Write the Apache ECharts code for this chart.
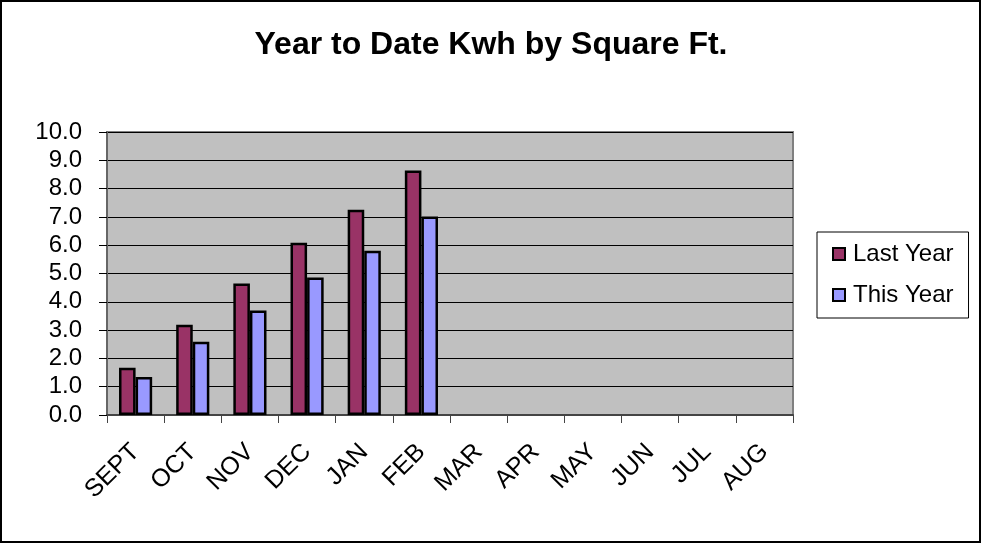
<!DOCTYPE html>
<html>
<head>
<meta charset="utf-8">
<script src="https://cdn.jsdelivr.net/npm/echarts@6/dist/echarts.min.js"></script>
<style>
  html, body { margin: 0; padding: 0; background: #fff; }
  #chart { width: 982px; height: 544px; }
</style>
</head>
<body>
<div id="chart"></div>
<script>
// chart data
const months = ['SEPT', 'OCT', 'NOV', 'DEC', 'JAN', 'FEB', 'MAR', 'APR', 'MAY', 'JUN', 'JUL', 'AUG']
const lastYear = [1.67, 3.19, 4.65, 6.09, 7.25, 8.64, null, null, null, null, null, null]
const thisYear = [1.34, 2.59, 3.69, 4.86, 5.80, 7.01, null, null, null, null, null, null]
const seriesNames = ['Last Year', 'This Year']

const font = 'Arial, "Liberation Sans", sans-serif'

const chart = echarts.init(document.getElementById('chart'), null, { renderer: 'canvas' })

const option = {
  animation: false,
  backgroundColor: '#fff',
  title: {
    text: 'Year to Date Kwh by Square Ft.',
    left: 'center',
    top: 24,
    padding: [5, 5, 5, 15],
    textStyle: { fontFamily: font, fontSize: 32, fontWeight: 'bold', color: '#000' }
  },
  graphic: [{
    type: 'rect',
    shape: { x: 1, y: 1, width: 979, height: 541 },
    style: { fill: 'none', stroke: '#000', lineWidth: 2 },
    z: 100
  }],
  legend: {
    orient: 'vertical',
    left: 817,
    top: 232,
    padding: [10, 15, 11, 15],
    itemGap: 17,
    itemWidth: 12,
    itemHeight: 12,
    icon: 'rect',
    borderColor: '#000',
    borderWidth: 1,
    backgroundColor: '#fff',
    data: seriesNames,
    textStyle: { fontFamily: font, fontSize: 24, color: '#000', lineHeight: 24, padding: [0, 0, 0, 3] }
  },
  grid: {
    left: 107,
    top: 132,
    right: 189,
    bottom: 129,
    show: true,
    backgroundColor: '#C0C0C0',
    borderColor: '#808080',
    borderWidth: 2
  },
  xAxis: {
    type: 'category',
    data: months,
    axisLine: { lineStyle: { color: '#444', width: 2 } },
    axisTick: { show: true, length: 8, lineStyle: { color: '#444', width: 1 } },
    axisLabel: {
      interval: 0,
      rotate: 45,
      margin: 33,
      fontFamily: font,
      fontSize: 25,
      color: '#000'
    }
  },
  yAxis: {
    type: 'value',
    min: 0,
    max: 10,
    interval: 1,
    axisLine: { show: true, lineStyle: { color: '#666', width: 2 } },
    axisTick: { show: true, length: 8, lineStyle: { color: '#000', width: 1 } },
    axisLabel: {
      margin: 25,
      fontFamily: font,
      fontSize: 24,
      color: '#000',
      formatter: v => v.toFixed(1)
    },
    splitLine: { lineStyle: { color: '#000', width: 1 } }
  },
  series: [
    {
      name: seriesNames[0],
      type: 'bar',
      data: lastYear,
      barGap: '0%',
      barCategoryGap: '42%',
      itemStyle: { color: '#993366', borderColor: '#000', borderWidth: 2.5 }
    },
    {
      name: seriesNames[1],
      type: 'bar',
      data: thisYear,
      itemStyle: { color: '#9999FF', borderColor: '#000', borderWidth: 2.5 }
    }
  ]
}

chart.setOption(option)
</script>
</body>
</html>
